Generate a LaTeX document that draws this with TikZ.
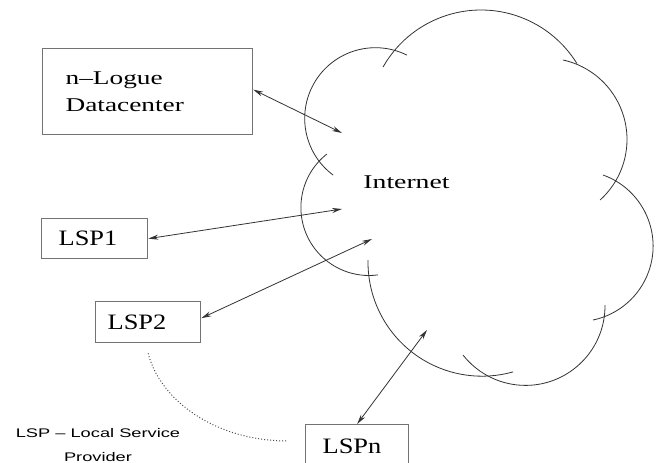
\documentclass[tikz,border=0pt]{standalone}
\usepackage{fontspec}
\setmainfont{Liberation Serif}
\setsansfont{Liberation Sans}
\usetikzlibrary{arrows.meta}
\newcommand{\sx}[2]{\scalebox{#1}[1]{#2}}
\newcommand{\cloudarc}[5]{\draw[cloudline] ([shift={(#3:#4)}]#1,#2) arc[start angle=#3, end angle=#5, radius=#4];}
\begin{document}
\begin{tikzpicture}[x=1pt,y=-1pt,
  box/.style={draw=black!55, line width=1.3pt, rectangle, inner ysep=0pt, align=left},
  lspbox/.style={box, minimum height=40pt, font=\fontsize{22}{24}\selectfont},
  cloudline/.style={draw=black!80, line width=0.8pt},
  link/.style={draw=black!80, line width=0.8pt, {Stealth[length=10pt,width=5pt]}-{Stealth[length=10pt,width=5pt]}}]
\useasboundingbox (0,0) rectangle (657,463);
\clip (0,0) rectangle (657,463);
\fill[white] (0,0) rectangle (657,463);

% boxes
\node[box, anchor=north west, inner xsep=23pt, text width=164pt, minimum height=86pt,
      font=\fontsize{19.5}{27}\selectfont] (dc) at (42,48) {\sx{1.4}{n–Logue}\\\sx{1.4}{Datacenter}};
\node[lspbox, anchor=north west, inner xsep=17pt, text width=72pt] (lsp1) at (41,218) {\sx{1.2}{LSP1}};
\node[lspbox, anchor=north west, inner xsep=12pt, text width=81pt, minimum height=41pt] (lsp2) at (95,301) {\sx{1.2}{LSP2}};
\node[lspbox, anchor=north west, inner xsep=17pt, text width=69pt, minimum height=44pt] (lspn) at (305,424) {\sx{1.2}{LSPn}};

% cloud (circular arcs)
\cloudarc{481}{122.7}{-150.4}{112.7}{-31.6}
\cloudarc{375.4}{118.4}{-63.5}{70.7}{-233.2}
\cloudarc{545.6}{139.5}{-77.7}{81.4}{48}
\cloudarc{577.6}{246.1}{-70.3}{75.5}{78.2}
\cloudarc{525.5}{305.9}{-0.6}{79.5}{141.8}
\cloudarc{482}{262.2}{181.1}{114}{74.2}
\cloudarc{368.9}{207.5}{231.9}{68}{82.3}

\node[font=\fontsize{19.5}{22}\selectfont, anchor=base, inner sep=0pt] (inet) at (406.5,188) {\sx{1.42}{Internet}};

% connectors
\coordinate (pdc) at (342,133);
\coordinate (p1) at (342,209);
\coordinate (p2) at (372,239);
\coordinate (pn) at (427,330);
\coordinate (dotend) at (288,441);
\draw[link] ([yshift=2pt]dc.east) -- (pdc);
\draw[link] (lsp1.east) -- (p1);
\draw[link] ([yshift=4pt]lsp2.east) -- (p2);
\draw[link] (lspn.north) -- (pn);
\draw[dotted, line width=1pt, black!70] ([yshift=-10pt]lsp2.south) .. controls (160,400) and (215,441) .. (dotend);

\node[font=\sffamily\fontsize{12.5}{24}\selectfont, align=center, anchor=north, inner sep=0pt] (legend) at (98,428)
  {\sx{1.46}{LSP – Local Service}\\\sx{1.46}{Provider}};
\end{tikzpicture}
\end{document}
